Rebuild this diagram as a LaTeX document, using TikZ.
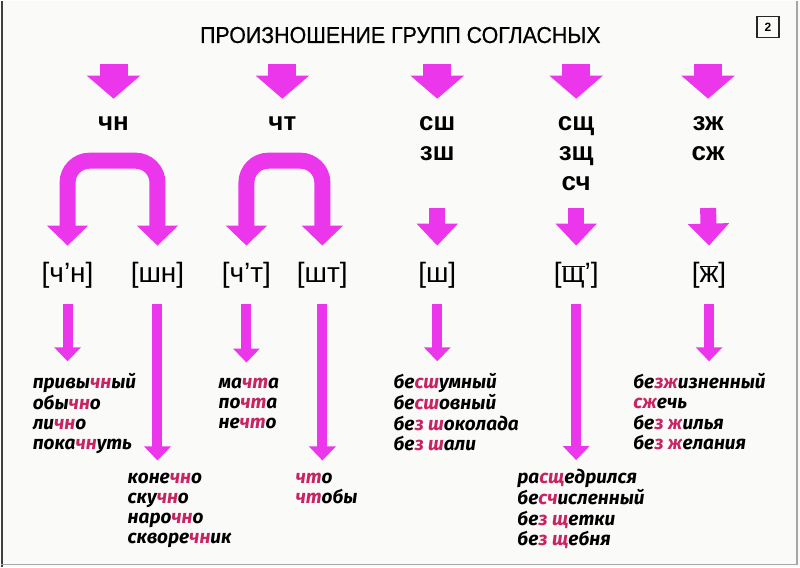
\documentclass[tikz,border=0pt]{standalone}
\usepackage{fontspec}
\setmainfont{Liberation Sans}
\newfontfamily\wordfont{Fira Sans}
\newfontfamily\titlefont{Liberation Sans}[FakeStretch=0.93,FakeBold=0.6]
\usepackage{xcolor}
\usetikzlibrary{arrows.meta,positioning}

\definecolor{arrowpink}{RGB}{236,54,236}
\definecolor{hlred}{RGB}{200,36,100}
\definecolor{paper}{RGB}{250,250,248}
\newcommand{\hl}[1]{\textcolor{hlred}{#1}}
\newcommand{\lng}[1]{\ensuremath{\overline{\mbox{#1}}}}
\newcommand{\grp}[1]{\begin{tabular}[t]{@{}c@{}}#1\end{tabular}}
\newcommand{\wlist}[1]{\begin{tabular}[t]{@{}l@{}}#1\end{tabular}}

\begin{document}
\begin{tikzpicture}[x=1pt,y=-1pt]
  \tikzstyle{group}=[font=\fontsize{26}{30}\selectfont\bfseries,inner sep=0pt,anchor=base]
  \tikzstyle{sound}=[font=\fontsize{28}{30}\selectfont,inner sep=0pt,anchor=base,text height=20pt,text depth=6pt]
  \tikzstyle{words}=[font=\wordfont\fontsize{19}{20}\selectfont\bfseries\itshape,inner sep=0pt,anchor=base west]
  \tikzstyle{bigdown}=[draw=arrowpink,line width=28pt,-{Triangle[width=52pt,length=23pt]}]
  \tikzstyle{middown}=[draw=arrowpink,line width=16pt,-{Triangle[width=40pt,length=22pt]}]
  \tikzstyle{fork}=[draw=arrowpink,line width=16pt,rounded corners=22pt,{Triangle[width=40pt,length=20pt]}-{Triangle[width=40pt,length=20pt]}]
  \tikzstyle{thindown}=[draw=arrowpink,line width=10pt,-{Triangle[width=26pt,length=14pt]}]

  \fill[paper] (0,0) rectangle (800,566);
  \draw[black!75,line width=2pt] (1,0) -- (1,566);
  \draw[black!35,line width=1.2pt] (797,0) -- (797,564) -- (0,564);
  \useasboundingbox (0,0) rectangle (800,566);

  \node[anchor=base,font=\titlefont\fontsize{23}{26}\selectfont] (title) at (400,42) {ПРОИЗНОШЕНИЕ ГРУПП СОГЛАСНЫХ};
  \node[draw=black!85,line width=1.6pt,minimum width=22pt,minimum height=21pt,inner sep=0pt,font=\bfseries\fontsize{12}{12}\selectfont] (num) at (768,26) {2};

  \node[group] (g1) at (113,130) {\grp{чн}};
  \node[group] (g2) at (282,130) {\grp{чт}};
  \node[group] (g3) at (437,130) {\grp{сш\\зш}};
  \node[group] (g4) at (576,130) {\grp{сщ\\зщ\\сч}};
  \node[group] (g5) at (708,130) {\grp{зж\\сж}};

  \node[sound] (p1) at (67,282) {[ч'н]};
  \node[sound] (p2) at (157,282) {[шн]};
  \node[sound] (p3) at (246,282) {[ч'т]};
  \node[sound] (p4) at (322,282) {[шт]};
  \node[sound] (p5) at (437,282) {[ш]};
  \node[sound] (p6) at (576,282) {[\lng{щ}']};
  \node[sound] (p7) at (709,282) {[\lng{ж}]};

  \node[words] (w1) at (32,388) {\wlist{привы\hl{чн}ый\\обы\hl{чн}о\\ли\hl{чн}о\\пока\hl{чн}уть}};
  \node[words] (w2) at (127,483) {\wlist{коне\hl{чн}о\\ску\hl{чн}о\\наро\hl{чн}о\\скворе\hl{чн}ик}};
  \node[words] (w3) at (218,388) {\wlist{ма\hl{чт}а\\по\hl{чт}а\\не\hl{чт}о}};
  \node[words] (w4) at (295,483) {\wlist{\hl{чт}о\\\hl{чт}обы}};
  \node[words] (w5) at (393,388) {\wlist{бе\hl{сш}умный\\бе\hl{сш}овный\\бе\hl{з ш}околада\\бе\hl{з ш}али}};
  \node[words] (w6) at (517,483) {\wlist{ра\hl{сщ}едрился\\бе\hl{сч}исленный\\бе\hl{з щ}етки\\бе\hl{з щ}ебня}};
  \node[words] (w7) at (633,388) {\wlist{бе\hl{зж}изненный\\\hl{сж}ечь\\бе\hl{з ж}илья\\бе\hl{з ж}елания}};

  \foreach \g in {g1,g2,g3,g4,g5}
    \draw[bigdown] ([yshift=46pt]\g.north) -- ([yshift=11pt]\g.north);

  \draw[fork] ([yshift=17pt]p1.north) -- ++(0,-85) -| ([yshift=17pt]p2.north);
  \draw[fork] ([yshift=17pt]p3.north) -- ++(0,-85) -| ([yshift=17pt]p4.north);

  \draw[middown] ([yshift=-38pt]g3.south) -- ([yshift=17pt]p5.north);
  \draw[middown] ([yshift=-8pt]g4.south) -- ([yshift=17pt]p6.north);
  \draw[middown] ([yshift=-38pt]g5.south) -- ([yshift=17pt]p7.north);

  \draw[thindown] ([yshift=-15pt]p1.south) -- ([yshift=12pt]p1 |- w1.north);
  \draw[thindown] ([yshift=-15pt]p2.south) -- ([yshift=9pt]p2 |- w2.north);
  \draw[thindown] ([yshift=-15pt]p3.south) -- ([yshift=12pt]p3 |- w3.north);
  \draw[thindown] ([yshift=-15pt]p4.south) -- ([yshift=9pt]p4 |- w4.north);
  \draw[thindown] ([yshift=-15pt]p5.south) -- ([yshift=12pt]p5 |- w5.north);
  \draw[thindown] ([yshift=-15pt]p6.south) -- ([yshift=9pt]p6 |- w6.north);
  \draw[thindown] ([yshift=-15pt]p7.south) -- ([yshift=12pt]p7 |- w7.north);
\end{tikzpicture}
\end{document}
